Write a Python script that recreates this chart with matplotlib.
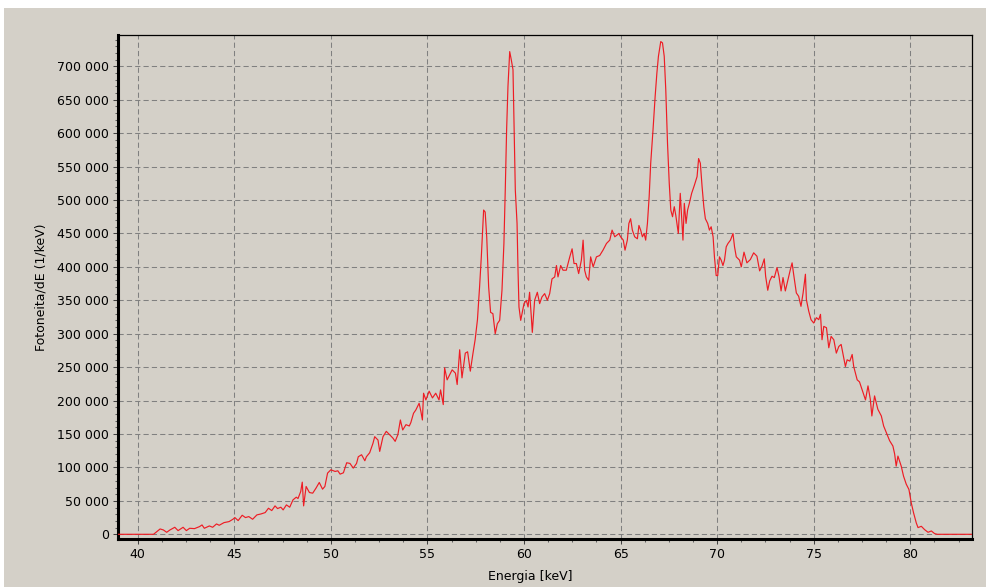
import matplotlib
matplotlib.use("Agg")
import matplotlib.pyplot as plt
from matplotlib.patches import Rectangle
from matplotlib.ticker import MultipleLocator, FuncFormatter

# Spectrum: energy [keV] and counts [thousands]
energy = [
    38.8, 40.82, 41.16, 41.33, 41.50, 41.67, 41.92, 42.09, 42.35, 42.52,
    42.69, 42.94, 43.20, 43.33, 43.45, 43.71, 43.88, 44.08, 44.22, 44.47,
    44.73, 44.93, 45.03, 45.20, 45.41, 45.58, 45.75, 45.95, 46.17, 46.39,
    46.60, 46.77, 46.94, 47.11, 47.24, 47.41, 47.53, 47.70, 47.87, 48.04,
    48.21, 48.30, 48.44, 48.52, 48.59, 48.72, 48.89, 49.06, 49.23, 49.40,
    49.57, 49.69, 49.83, 50.00, 50.22, 50.36, 50.48, 50.65, 50.82, 50.99,
    51.16, 51.33, 51.42, 51.59, 51.76, 51.84, 52.01, 52.18, 52.27, 52.44,
    52.53, 52.70, 52.87, 53.04, 53.21, 53.33, 53.47, 53.60, 53.72, 53.89,
    54.06, 54.14, 54.28, 54.40, 54.57, 54.66, 54.74, 54.80, 54.92, 55.09,
    55.26, 55.43, 55.60, 55.68, 55.82, 55.89, 56.02, 56.19, 56.28, 56.45,
    56.54, 56.67, 56.79, 56.96, 57.08, 57.22, 57.36, 57.47, 57.59, 57.70,
    57.79, 57.91, 57.99, 58.07, 58.17, 58.27, 58.39, 58.51, 58.62, 58.74,
    58.86, 58.96, 59.03, 59.10, 59.17, 59.26, 59.34, 59.43, 59.48, 59.55,
    59.64, 59.69, 59.74, 59.83, 59.90, 60.00, 60.12, 60.21, 60.29, 60.38,
    60.43, 60.55, 60.69, 60.81, 60.93, 61.07, 61.21, 61.33, 61.45, 61.59,
    61.68, 61.76, 61.90, 62.02, 62.19, 62.37, 62.49, 62.59, 62.71, 62.83,
    62.97, 63.06, 63.14, 63.23, 63.35, 63.45, 63.58, 63.75, 63.92, 64.09,
    64.27, 64.44, 64.56, 64.70, 64.79, 64.91, 65.00, 65.14, 65.23, 65.35,
    65.43, 65.52, 65.61, 65.73, 65.87, 65.95, 66.04, 66.13, 66.22, 66.30,
    66.39, 66.48, 66.56, 66.68, 66.79, 66.88, 66.96, 67.08, 67.17, 67.26,
    67.34, 67.43, 67.52, 67.60, 67.69, 67.78, 67.86, 67.99, 68.09, 68.16,
    68.23, 68.30, 68.39, 68.47, 68.56, 68.68, 68.82, 68.96, 69.04, 69.13,
    69.22, 69.31, 69.39, 69.51, 69.60, 69.69, 69.79, 69.86, 69.95, 70.03,
    70.12, 70.21, 70.30, 70.38, 70.47, 70.56, 70.69, 70.82, 70.90, 70.99,
    71.16, 71.25, 71.39, 71.54, 71.72, 71.89, 72.06, 72.20, 72.32, 72.44,
    72.51, 72.62, 72.72, 72.84, 72.96, 73.10, 73.20, 73.31, 73.41, 73.53,
    73.65, 73.79, 73.88, 73.96, 74.10, 74.22, 74.34, 74.45, 74.57, 74.62,
    74.74, 74.86, 75.00, 75.14, 75.26, 75.35, 75.43, 75.52, 75.66, 75.78,
    75.90, 76.04, 76.17, 76.30, 76.42, 76.55, 76.64, 76.73, 76.87, 76.99,
    77.07, 77.16, 77.25, 77.37, 77.45, 77.56, 77.68, 77.81, 77.93, 78.01,
    78.15, 78.32, 78.50, 78.62, 78.76, 78.93, 79.10, 79.19, 79.27, 79.36,
    79.53, 79.65, 79.79, 79.93, 80.05, 80.17, 80.31, 80.40, 80.57, 80.74,
    80.92, 81.09, 81.26, 81.40, 83.5,
]
counts_k = [
    0, 0, 8, 6.5, 3, 6.5, 10.5, 5.5, 10.5, 5.5,
    9, 8.5, 11.5, 14, 9, 12.5, 10.5, 15.5, 13.5, 17.5,
    19, 22.5, 25, 20.5, 28.5, 25, 26.5, 22.5, 29, 30.5,
    32.5, 39, 35.5, 42.5, 38.5, 40.5, 36.5, 44, 40.5, 51.5,
    55.5, 53.5, 64, 78, 42.5, 71.5, 62.5, 61.5, 69, 77.5,
    67.5, 71.5, 91.5, 96.5, 94, 95, 90, 92, 107, 106,
    99, 106, 116, 119, 110, 116, 122, 136, 146, 141,
    124, 146, 154, 149, 144, 139, 149, 171, 156, 164,
    162, 167, 181, 186, 196, 184, 171, 211, 201, 214,
    204, 211, 201, 216, 194, 249, 231, 241, 246, 241,
    224, 276, 234, 271, 273, 244, 271, 291, 321, 370,
    415, 485, 482, 445, 370, 332, 330, 300, 315, 320,
    365, 435, 515, 605, 670, 722, 710, 695, 620, 515,
    465, 395, 340, 320, 330, 345, 350, 340, 362, 325,
    302, 350, 362, 345, 355, 360, 350, 360, 382, 385,
    402, 385, 402, 395, 395, 415, 427, 405, 405, 390,
    410, 440, 395, 385, 380, 415, 400, 415, 417, 425,
    435, 440, 455, 445, 447, 450, 445, 440, 425, 440,
    465, 472, 455, 445, 442, 462, 455, 445, 450, 440,
    465, 505, 555, 605, 655, 690, 715, 737, 735, 715,
    665, 585, 525, 485, 475, 490, 477, 450, 510, 475,
    440, 495, 465, 485, 495, 510, 522, 535, 562, 555,
    520, 490, 472, 465, 455, 460, 445, 415, 387, 387,
    415, 410, 402, 410, 430, 435, 440, 450, 430, 415,
    410, 400, 422, 406, 411, 421, 416, 394, 401, 412,
    386, 365, 379, 386, 384, 399, 386, 364, 384, 364,
    379, 396, 406, 389, 361, 356, 341, 361, 389, 351,
    334, 321, 316, 324, 321, 329, 291, 311, 309, 279,
    296, 291, 271, 281, 284, 264, 251, 261, 259, 269,
    251, 241, 231, 228, 221, 211, 201, 222, 202, 177,
    207, 187, 177, 162, 152, 140, 132, 120, 102, 117,
    102, 87, 75, 67, 47, 32, 17, 10, 12, 7,
    3, 5, 1, 0, 0,
]
counts = [c * 1000 for c in counts_k]

x_ticks = [40, 45, 50, 55, 60, 65, 70, 75, 80]
y_ticks = list(range(0, 700001, 50000))

bg = '#d4d0c8'
plt.rcParams['font.family'] = 'DejaVu Sans'
plt.rcParams['font.size'] = 9

fig = plt.figure(figsize=(9.87, 5.87), dpi=100, facecolor='white')
# grey panel, leaving a thin white strip on top and left
fig.patches.append(Rectangle((4 / 987, 0), 1, 1 - 8 / 587, transform=fig.transFigure,
                             facecolor=bg, edgecolor='none', zorder=-10))

ax = fig.add_axes([118 / 987, 1 - 539 / 587, 854.2 / 987, 504.2 / 587])
ax.set_facecolor(bg)

ax.plot(energy, counts, color='#ee1c24', linewidth=0.85, zorder=3)

ax.set_xlim(38.98, 83.205)
ax.set_ylim(-7030, 747120)
ax.set_xticks(x_ticks)
ax.set_yticks(y_ticks)
ax.xaxis.set_minor_locator(MultipleLocator(1.25))
ax.yaxis.set_minor_locator(MultipleLocator(10000))
ax.yaxis.set_major_formatter(FuncFormatter(lambda v, p: f"{int(v):,}".replace(",", " ")))

ax.grid(True, which='major', color='#808080', linestyle=(0, (5, 3)), linewidth=0.75)
ax.set_axisbelow(True)

ax.tick_params(which='major', direction='out', length=3.5, width=0.75, color='#404040',
               labelsize=9, pad=3)
ax.tick_params(which='minor', direction='out', length=2.2, width=0.75, color='#606060')

for side in ['left', 'bottom']:
    ax.spines[side].set_linewidth(2.2)
for side in ['top', 'right']:
    ax.spines[side].set_linewidth(0.9)
for s in ax.spines.values():
    s.set_color('black')

ax.set_xlabel('Energia [keV]', fontsize=9)
ax.set_ylabel('Fotoneita/dE (1/keV)', fontsize=9)
ax.xaxis.set_label_coords(0.483, -0.062)
ax.yaxis.set_label_coords(-0.083, 0.5)

fig.savefig('out.png', dpi=100, facecolor=fig.get_facecolor())
